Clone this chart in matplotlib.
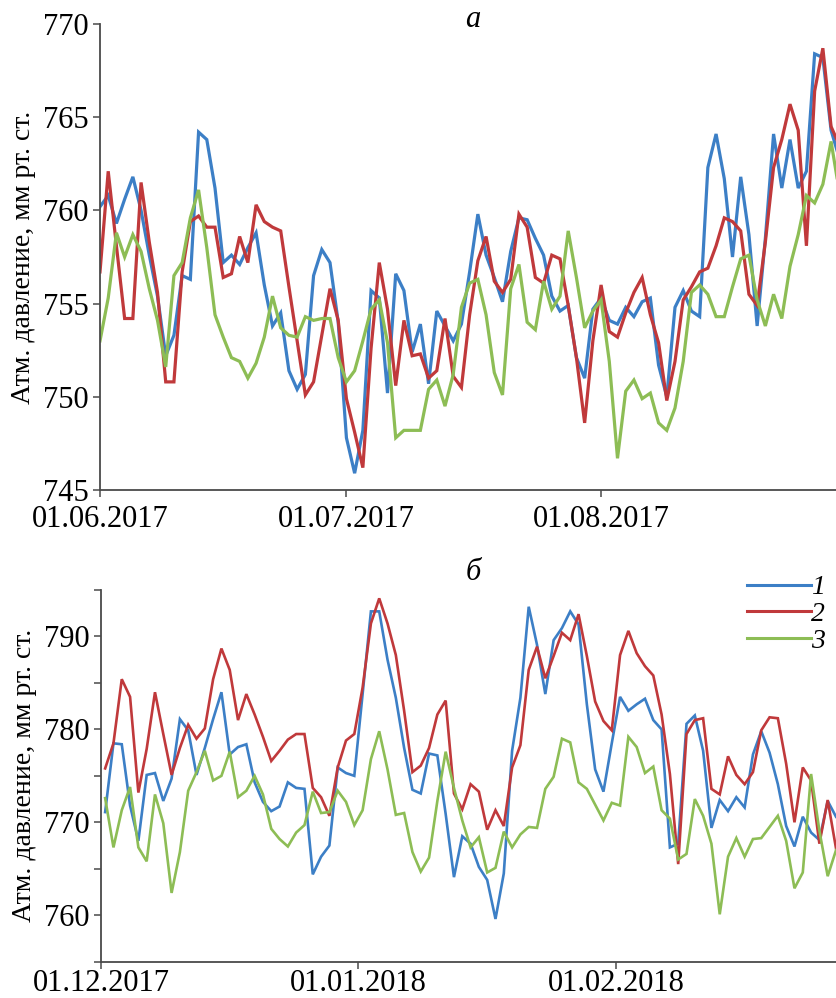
"""
Atmospheric pressure, two seasons
=================================
Daily surface pressure for three series (1, 2, 3):
  а — summer 2017 (June–August)
  б — winter 2017/18 (December–February)

Usage:
    python plot.py
"""

import matplotlib
matplotlib.use("Agg")
import matplotlib.dates as mdates
import matplotlib.pyplot as plt
import pandas as pd
from matplotlib.ticker import MultipleLocator

# Summer 2017, one value per day from 01.06
SUMMER_START = "2017-06-01"
summer_1 = [
    760.2, 760.8, 759.3, 760.6, 761.8, 760.0, 757.6, 755.4, 752.2, 753.3,
    756.5, 756.3, 764.2, 763.8, 761.2, 757.2, 757.6, 757.1, 758.0, 758.8,
    756.0, 753.8, 754.5, 751.4, 750.4, 751.2, 756.5, 757.9, 757.2, 754.0,
    747.8, 745.9, 748.2, 755.7, 755.3, 750.2, 756.6, 755.7, 752.4, 753.9,
    750.7, 754.6, 753.8, 753.0, 753.9, 756.7, 759.8, 757.6, 756.4, 755.1,
    757.8, 759.6, 759.5, 758.5, 757.6, 755.4, 754.6, 754.9, 752.1, 751.0,
    754.7, 755.3, 754.1, 753.9, 754.8, 754.3, 755.1, 755.3, 751.7, 750.0,
    754.8, 755.7, 754.6, 754.3, 762.3, 764.1, 761.7, 757.5, 761.8, 758.7,
    753.8, 758.5, 764.1, 761.2, 763.8, 761.2, 762.1, 768.4, 768.2, 764.3,
    762.8,
]
summer_2 = [
    756.7, 762.1, 758.1, 754.2, 754.2, 761.5, 758.3, 755.6, 750.8, 750.8,
    756.7, 759.4, 759.7, 759.1, 759.1, 756.4, 756.6, 758.6, 757.2, 760.3,
    759.4, 759.1, 758.9, 755.9, 753.0, 750.1, 750.8, 753.3, 755.8, 754.1,
    749.9, 748.1, 746.2, 752.6, 757.2, 754.7, 750.6, 754.1, 752.2, 752.3,
    751.0, 751.4, 754.2, 751.1, 750.5, 754.4, 757.3, 758.6, 756.2, 755.6,
    756.3, 759.8, 759.1, 756.4, 756.1, 757.6, 757.4, 754.9, 752.1, 748.6,
    753.0, 756.0, 753.5, 753.2, 754.5, 755.6, 756.4, 754.4, 752.9, 749.8,
    751.9, 755.2, 755.9, 756.7, 756.9, 758.1, 759.6, 759.4, 758.9, 755.5,
    754.9, 758.3, 762.3, 763.8, 765.7, 764.3, 758.1, 766.4, 768.7, 764.5,
    763.5,
]
summer_3 = [
    753.0, 755.3, 758.8, 757.5, 758.7, 757.8, 755.8, 754.1, 751.6, 756.5,
    757.2, 759.6, 761.1, 758.0, 754.4, 753.2, 752.1, 751.9, 751.0, 751.8,
    753.2, 755.4, 753.7, 753.3, 753.2, 754.3, 754.1, 754.2, 754.2, 752.1,
    750.8, 751.4, 753.0, 754.7, 755.2, 752.9, 747.8, 748.2, 748.2, 748.2,
    750.4, 750.9, 749.5, 751.2, 754.8, 756.1, 756.3, 754.4, 751.3, 750.1,
    755.8, 757.1, 754.0, 753.6, 756.2, 754.7, 755.4, 758.9, 756.4, 753.7,
    754.6, 755.2, 751.9, 746.7, 750.3, 750.9, 749.9, 750.2, 748.6, 748.2,
    749.4, 751.9, 755.6, 756.0, 755.5, 754.3, 754.3, 755.9, 757.4, 757.6,
    755.2, 753.8, 755.5, 754.2, 757.0, 758.7, 760.8, 760.4, 761.4, 763.7,
    761.0,
]

# Winter 2017/18, one value per day from 01.12 (plotted at midday)
WINTER_START = "2017-12-01 12:00"
winter_1 = [
    771.1, 778.5, 778.4, 771.8, 768.0, 775.1, 775.3, 772.3, 774.7, 781.1,
    779.9, 775.1, 778.0, 781.1, 784.0, 777.3, 778.1, 778.4, 774.3, 772.2,
    771.2, 771.7, 774.3, 773.7, 773.6, 764.4, 766.3, 767.5, 775.9, 775.3,
    775.0, 783.8, 792.7, 792.7, 787.5, 783.4, 778.0, 773.5, 773.1, 777.4,
    777.2, 770.9, 764.1, 768.5, 767.7, 765.2, 763.8, 759.6, 764.5, 777.7,
    783.4, 793.2, 789.1, 783.8, 789.6, 790.9, 792.7, 791.3, 782.7, 775.7,
    773.3, 778.5, 783.5, 782.0, 782.7, 783.3, 781.0, 780.0, 767.3, 767.7,
    780.6, 781.5, 777.7, 769.4, 772.4, 771.2, 772.7, 771.6, 777.3, 779.8,
    777.5, 774.1, 769.6, 767.4, 770.6, 768.9, 768.1, 772.3, 770.6,
]
winter_2 = [
    775.8, 778.5, 785.4, 783.5, 773.2, 777.9, 784.0, 779.5, 775.1, 778.0,
    780.5, 779.0, 780.1, 785.4, 788.7, 786.4, 781.0, 783.8, 781.6, 779.2,
    776.6, 777.7, 778.9, 779.5, 779.5, 773.7, 772.7, 770.7, 775.9, 778.8,
    779.5, 784.5, 791.4, 794.1, 791.4, 788.0, 782.0, 775.4, 776.1, 778.0,
    781.6, 783.1, 773.1, 771.4, 774.1, 773.3, 769.2, 771.3, 769.6, 775.9,
    778.3, 786.4, 788.9, 785.5, 787.9, 790.4, 789.6, 792.4, 787.9, 783.0,
    780.9, 779.9, 788.0, 790.6, 788.2, 786.8, 785.8, 781.6, 775.2, 765.5,
    779.5, 781.0, 781.2, 773.6, 773.0, 777.1, 775.1, 774.1, 775.4, 779.9,
    781.3, 781.2, 776.3, 770.0, 775.9, 774.5, 767.7, 772.4, 767.2,
]
winter_3 = [
    772.6, 767.3, 771.3, 773.8, 767.3, 765.8, 773.0, 769.9, 762.4, 766.8,
    773.4, 775.4, 777.7, 774.5, 775.0, 777.6, 772.7, 773.4, 775.0, 773.0,
    769.3, 768.2, 767.4, 768.9, 769.7, 773.3, 771.0, 771.1, 773.4, 772.2,
    769.7, 771.3, 776.8, 779.8, 775.7, 770.8, 771.0, 766.8, 764.7, 766.2,
    772.3, 777.6, 773.7, 770.2, 767.3, 768.4, 764.6, 765.1, 769.0, 767.3,
    768.7, 769.5, 769.4, 773.6, 774.9, 779.0, 778.6, 774.3, 773.6, 771.9,
    770.2, 772.1, 771.8, 779.2, 778.1, 775.3, 776.0, 771.3, 770.4, 766.0,
    766.6, 772.5, 770.7, 767.7, 760.1, 766.3, 768.3, 766.3, 768.2, 768.3,
    769.5, 770.7, 768.0, 762.9, 764.6, 775.2, 769.1, 764.2, 767.0,
]

SERIES_LABELS = ["1", "2", "3"]
COLORS = ["#3c7fc6", "#c0393b", "#8dbd55"]

summer_ticks = ["2017-06-01", "2017-07-01", "2017-08-01"]
winter_ticks = ["2017-12-01", "2018-01-01", "2018-02-01"]

Y_LABEL = "Атм. давление, мм рт. ст."
FONT = "Liberation Serif"
SPINE_COLOR = "#4a4a4a"


def style_axes(ax, ticks, x_end, y_range, xpad):
    """Common spines, ticks and limits for one panel."""
    for side in ("top", "right"):
        ax.spines[side].set_visible(False)
    for side in ("left", "bottom"):
        ax.spines[side].set_color(SPINE_COLOR)
        ax.spines[side].set_linewidth(1.3)

    ax.set_xlim(pd.Timestamp(ticks[0]), x_end)
    ax.set_ylim(*y_range)
    ax.set_xticks([pd.Timestamp(t) for t in ticks])
    ax.xaxis.set_major_formatter(mdates.DateFormatter("%d.%m.%Y"))

    ax.tick_params(which="both", direction="out", length=5, width=1.1,
                   color=SPINE_COLOR, labelsize=22)
    ax.tick_params(axis="y", which="both", pad=3)
    ax.tick_params(axis="x", pad=xpad)
    ax.set_ylabel(Y_LABEL, fontsize=20, fontfamily=FONT, labelpad=5)


def set_tick_fonts(ax):
    for lab in ax.get_xticklabels() + ax.get_yticklabels():
        lab.set_fontfamily(FONT)


def draw_panel(ax, start, values, lw):
    dates = pd.date_range(start, periods=len(values[0]), freq="D")
    for vals, color, label in zip(values, COLORS, SERIES_LABELS):
        ax.plot(dates, vals, color=color, linewidth=lw, label=label,
                solid_joinstyle="miter")


def main():
    fig = plt.figure(figsize=(8.36, 9.98), dpi=100)

    # --- а: summer ---
    ax_a = fig.add_axes([100 / 836, 508 / 998, 736 / 836, 466 / 998])
    draw_panel(ax_a, SUMMER_START, [summer_1, summer_2, summer_3], lw=2.3)
    style_axes(ax_a, summer_ticks,
               pd.Timestamp("2017-06-01") + pd.Timedelta(days=89.6),
               (745, 770), xpad=6)
    ax_a.yaxis.set_major_locator(MultipleLocator(5))
    set_tick_fonts(ax_a)
    ax_a.text(0.506, 1.01, "а", transform=ax_a.transAxes, ha="center",
              va="center", fontsize=22, fontstyle="italic", fontfamily=FONT)

    # --- б: winter ---
    ax_b = fig.add_axes([101 / 836, 36.3 / 998, 735 / 836, 371.7 / 998])
    draw_panel(ax_b, WINTER_START, [winter_1, winter_2, winter_3], lw=1.9)
    style_axes(ax_b, winter_ticks,
               pd.Timestamp("2017-12-01") + pd.Timedelta(days=88.5),
               (755, 795), xpad=0.5)
    ax_b.yaxis.set_major_locator(MultipleLocator(10))
    ax_b.yaxis.set_minor_locator(MultipleLocator(5))
    set_tick_fonts(ax_b)
    ax_b.text(0.506, 1.048, "б", transform=ax_b.transAxes, ha="center",
              va="center", fontsize=22, fontstyle="italic", fontfamily=FONT)

    leg = ax_b.legend(loc="upper right", bbox_to_anchor=(1.004, 1.078),
                      frameon=False, handlelength=2.3, handletextpad=0.0,
                      labelspacing=0.05, borderpad=0,
                      prop={"family": FONT, "style": "italic", "size": 20})
    for line in leg.get_lines():
        line.set_linewidth(2.2)

    fig.savefig("out.png", dpi=100)
    plt.close(fig)


if __name__ == "__main__":
    main()
